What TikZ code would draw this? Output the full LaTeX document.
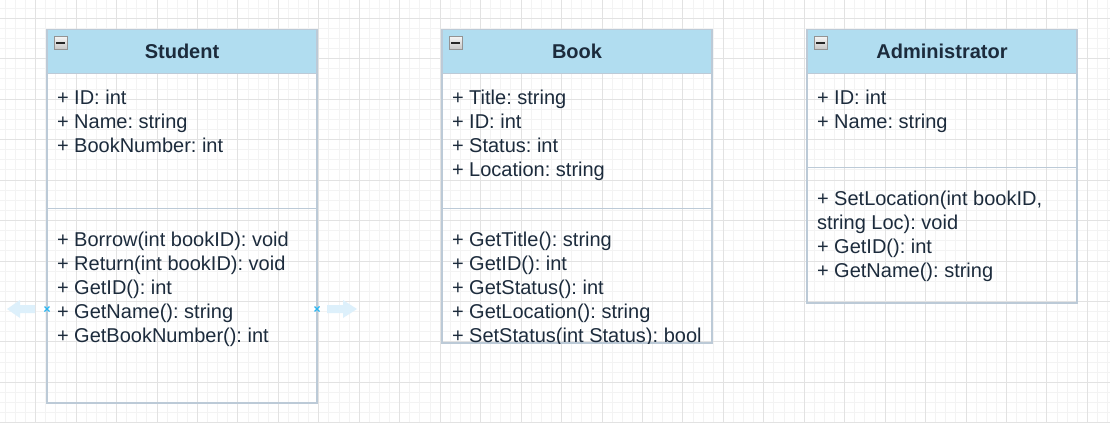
\documentclass[tikz,border=0pt]{standalone}
\usepackage{fontspec}
\setmainfont{Liberation Sans}
\frenchspacing
\usetikzlibrary{positioning}
\definecolor{headblue}{HTML}{B1DDF0}
\definecolor{edgegray}{HTML}{BCCAD7}
\definecolor{inkblue}{HTML}{1C2B3C}
\definecolor{gridmajor}{HTML}{E2E2E2}
\definecolor{gridminor}{HTML}{F3F3F3}
\definecolor{handleblue}{HTML}{29B6F2}
\definecolor{hintblue}{HTML}{DDF0FB}
\tikzset{
	classhead/.style={draw=edgegray, line width=1.5pt, fill=headblue, minimum width=270, minimum height=44, inner sep=0, outer sep=0, anchor=north west, font=\fontsize{20}{24}\selectfont\bfseries, text=inkblue},
	classpart/.style={draw=edgegray, line width=1.5pt, minimum width=270, inner sep=0, outer sep=0, anchor=north},
	member/.style={anchor=base west, inner sep=0, outer sep=0, font=\fontsize{20}{24}\selectfont, text=inkblue},
	foldbox/.style={draw=gray!85, line width=1pt, top color=gray!8, bottom color=gray!45, minimum size=13, inner sep=0, outer sep=0, anchor=north west},
}
\begin{document}
\begin{tikzpicture}[x=1pt,y=-1pt]
	\useasboundingbox (0,0) rectangle (1110,423);
	\fill[white] (0,0) rectangle (1110,423);

	\foreach \i in {0,...,111}
		\draw[gridminor, line width=1pt] ({-4.75+10.1125*\i},0) -- ++(0,423);
	\foreach \j in {0,...,44}
		\draw[gridminor, line width=1pt] (0,{-22.15+10.1125*\j}) -- ++(1110,0);
	\foreach \i in {0,...,28}
		\draw[gridmajor, line width=1pt] ({-4.75+40.45*\i},0) -- ++(0,423);
	\foreach \j in {0,...,11}
		\draw[gridmajor, line width=1pt] (0,{-22.15+40.45*\j}) -- ++(1110,0);

	\node[classhead] (student) at (47,29.5) {Student};
	\node[classpart, minimum height=135] (studentattr) at (student.south) {};
	\node[classpart, minimum height=194.5] (studentops) at (studentattr.south) {};

	\node[classhead] (book) at (442,29.5) {Book};
	\node[classpart, minimum height=135] (bookattr) at (book.south) {};
	\node[classpart, minimum height=134.5] (bookops) at (bookattr.south) {};

	\node[classhead] (admin) at (807,29.5) {Administrator};
	\node[classpart, minimum height=94] (adminattr) at (admin.south) {};
	\node[classpart, minimum height=135.5] (adminops) at (adminattr.south) {};

	\foreach \c in {student,book,admin}{
		\node[foldbox] (\c fold) at ([shift={(7,7)}]\c.north west) {};
		\draw[line width=2pt, black!85] ([xshift=-4.5]\c fold.center) -- ([xshift=4.5]\c fold.center);
	}

	\foreach \t [count=\i from 0] in {{+ ID: int},{+ Name: string},{+ BookNumber: int}}
		\node[member] (studentattr\i) at ([shift={(10,30.5+24*\i)}]studentattr.north west) {\t};
	\foreach \t [count=\i from 0] in {{+ Borrow(int bookID): void},{+ Return(int bookID): void},{+ GetID(): int},{+ GetName(): string},{+ GetBookNumber(): int}}
		\node[member] (studentops\i) at ([shift={(10,37.5+24*\i)}]studentops.north west) {\t};

	\foreach \t [count=\i from 0] in {{+ Title: string},{+ ID: int},{+ Status: int},{+ Location: string}}
		\node[member] (bookattr\i) at ([shift={(10,30.5+24*\i)}]bookattr.north west) {\t};
	\begin{scope}
		\clip (bookops.north west) rectangle (bookops.south east);
		\foreach \t [count=\i from 0] in {{+ GetTitle(): string},{+ GetID(): int},{+ GetStatus(): int},{+ GetLocation(): string},{+ SetStatus(int Status): bool}}
			\node[member] (bookops\i) at ([shift={(10,37.5+24*\i)}]bookops.north west) {\t};
	\end{scope}

	\foreach \t [count=\i from 0] in {{+ ID: int},{+ Name: string}}
		\node[member] (adminattr\i) at ([shift={(10,30.5+24*\i)}]adminattr.north west) {\t};
	\foreach \t [count=\i from 0] in {{+ SetLocation(int bookID,},{string Loc): void},{+ GetID(): int},{+ GetName(): string}}
		\node[member] (adminops\i) at ([shift={(10,37.5+24*\i)}]adminops.north west) {\t};

	\coordinate (lefthandle) at (47,309);
	\coordinate (righthandle) at (317,309);
	\begin{scope}[shift={(lefthandle)}]
		\fill[hintblue] (-12,-4) -- (-27,-4) -- (-27,-9) -- (-40,0) -- (-27,9) -- (-27,4) -- (-12,4) -- cycle;
		\draw[handleblue, line width=1.2pt] (-2.5,-2.5) -- (2.5,2.5) (-2.5,2.5) -- (2.5,-2.5);
	\end{scope}
	\begin{scope}[shift={(righthandle)}, xscale=-1]
		\fill[hintblue] (-10,-4) -- (-26,-4) -- (-26,-9) -- (-40,0) -- (-26,9) -- (-26,4) -- (-10,4) -- cycle;
		\draw[handleblue, line width=1.2pt] (-2.5,-2.5) -- (2.5,2.5) (-2.5,2.5) -- (2.5,-2.5);
	\end{scope}
\end{tikzpicture}
\end{document}
